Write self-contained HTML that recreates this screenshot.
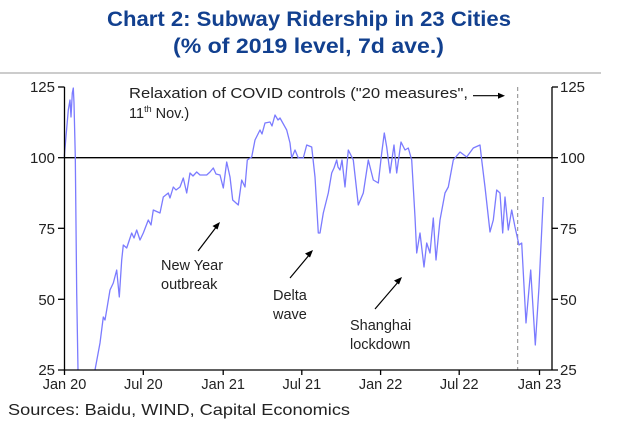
<!DOCTYPE html>
<html><head><meta charset="utf-8"><style>
html,body{margin:0;padding:0;background:#fff;}
svg{display:block;}
text{font-family:"Liberation Sans",Arial,sans-serif;}
</style></head><body>
<svg width="633" height="432" viewBox="0 0 633 432" xmlns="http://www.w3.org/2000/svg">
<rect width="633" height="432" fill="#fff"/>
<g fill="#12408f" font-weight="bold" font-size="21" text-anchor="start">
<text x="107" y="26" textLength="404" lengthAdjust="spacingAndGlyphs">Chart 2: Subway Ridership in 23 Cities</text>
<text x="173" y="53" textLength="271" lengthAdjust="spacingAndGlyphs">(% of 2019 level, 7d ave.)</text>
</g>
<line x1="0" y1="73" x2="601" y2="73" stroke="#bbb" stroke-width="1.5"/>
<line x1="517.7" y1="87" x2="517.7" y2="370" stroke="#888" stroke-width="1" stroke-dasharray="4,3"/>
<line x1="64.5" y1="157.7" x2="552" y2="157.7" stroke="#000" stroke-width="1.3"/>
<polyline fill="none" stroke="#7b7bff" stroke-width="1.3" stroke-linejoin="round" points="64.3,156.7 65.7,140 68.3,110 70,100 71,117 72.3,93 73.3,88 74,103 75.3,157 76.7,293 78,370"/>
<polyline fill="none" stroke="#7b7bff" stroke-width="1.3" stroke-linejoin="round" points="95,370 100,343 103.3,317 105,320 106.7,310 110,290 113.3,283 116.7,270 119.3,297 121.7,260 123.3,245 126.7,248 131.7,233 134,238 136.7,230 140,240 143.3,233 148.3,220 151,225 153.3,210 160,213 163.3,197 168.3,193 170,198 173.3,187 176,190 180,187 183.3,178 186.7,193 190,173 193,176 196.7,172 200,175 206.7,175 210,172 213.3,168 216,174 220,175 223.3,188 226.7,162 230,177 232.7,200 238.3,205 241.7,180 245,187 247.3,160 251.7,157 255,140 260,130 262,134 265,123 270,122 272,126 275,115 278,120 280,118 286.7,130 290,143 291.7,158 295,150 298.3,158 303.3,158 306.7,145 311.7,147 315,177 318.3,233 320,233 323.3,213 328.3,193 331.7,173 334,168 336.7,160 338,167 340,170 342,160 345,187 348.3,150 353.3,160 358.3,205 363.3,193 368.3,160 373.3,180 378.3,183 381.7,153 384.3,133 386.7,147 390,173 394,145 396.7,173 401,142 405,150 408.3,148 411.7,160 415,217 416.7,253 420,233 424,267 426.7,243 430,253 433.3,218 436,260 440,220 445,193 448.3,187 453.3,160 460,152 466.7,157 473.3,148 480,145 481.7,160 485,187 490,232 493.3,220 496.7,190 500,193 502.7,233 505,197 508.3,230 511.7,210 515,227 519,245 521.7,243 526,323 530.7,270 535.3,345 539,287 543.3,197"/>
<g stroke="#000" stroke-width="1.3" fill="none">
<line x1="64.5" y1="87" x2="64.5" y2="370"/>
<line x1="552" y1="87" x2="552" y2="370"/>
<line x1="58" y1="370" x2="558" y2="370"/>
<line x1="58" y1="87" x2="64.5" y2="87"/><line x1="58" y1="157.7" x2="64.5" y2="157.7"/><line x1="58" y1="228.3" x2="64.5" y2="228.3"/><line x1="58" y1="299.3" x2="64.5" y2="299.3"/>
<line x1="552" y1="87" x2="558" y2="87"/><line x1="552" y1="157.7" x2="558" y2="157.7"/><line x1="552" y1="228.3" x2="558" y2="228.3"/><line x1="552" y1="299.3" x2="558" y2="299.3"/>
<line x1="64.5" y1="370" x2="64.5" y2="375"/><line x1="143.3" y1="370" x2="143.3" y2="375"/><line x1="223.2" y1="370" x2="223.2" y2="375"/><line x1="301.8" y1="370" x2="301.8" y2="375"/><line x1="380.6" y1="370" x2="380.6" y2="375"/><line x1="459.2" y1="370" x2="459.2" y2="375"/><line x1="539.5" y1="370" x2="539.5" y2="375"/>
</g>
<g font-size="15" fill="#222">
<g text-anchor="end"><text x="55" y="92">125</text><text x="55" y="163">100</text><text x="55" y="234">75</text><text x="55" y="305">50</text><text x="55" y="375">25</text></g>
<g text-anchor="start"><text x="560" y="92">125</text><text x="560" y="163">100</text><text x="560" y="234">75</text><text x="560" y="305">50</text><text x="560" y="375">25</text></g>
<g text-anchor="middle" font-size="14.5"><text x="64.5" y="389">Jan 20</text><text x="143.3" y="389">Jul 20</text><text x="223.2" y="389">Jan 21</text><text x="301.8" y="389">Jul 21</text><text x="380.6" y="389">Jan 22</text><text x="459.2" y="389">Jul 22</text><text x="539.5" y="389">Jan 23</text></g>
</g>
<g font-size="14.5" fill="#222">
<text x="129" y="98" textLength="339" lengthAdjust="spacingAndGlyphs">Relaxation of COVID controls ("20 measures",</text>
<text x="129" y="118">11<tspan font-size="9" dy="-6">th</tspan><tspan dy="6"> Nov.)</tspan></text>
<text x="161" y="270">New Year</text><text x="161" y="289">outbreak</text>
<text x="273" y="300">Delta</text><text x="273" y="319">wave</text>
<text x="350" y="330">Shanghai</text><text x="350" y="349">lockdown</text>
</g>
<g stroke="#000" stroke-width="1.2" fill="#000">
<line x1="473" y1="95.7" x2="500" y2="95.7"/><polygon points="505,95.7 498,92.7 498,98.7" stroke="none"/>
<line x1="198" y1="251" x2="217" y2="226"/><polygon points="220,222 212.5,226 217.5,229.5" stroke="none"/>
<line x1="290" y1="278" x2="310" y2="254"/><polygon points="313,250 305,253.5 310,257.5" stroke="none"/>
<line x1="375" y1="309" x2="399" y2="281"/><polygon points="402,277 394,280.5 399,284.5" stroke="none"/>
</g>
<text x="8" y="415" font-size="16" fill="#222" textLength="342" lengthAdjust="spacingAndGlyphs">Sources: Baidu, WIND, Capital Economics</text>
</svg>
</body></html>
